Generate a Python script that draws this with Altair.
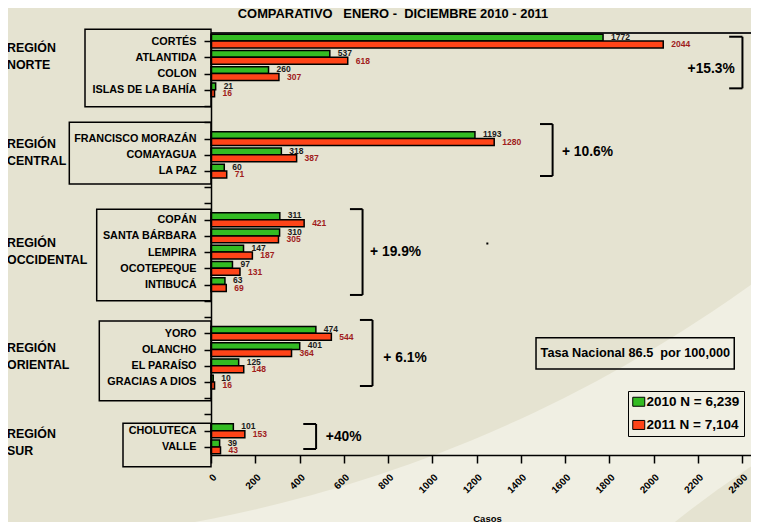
import json
import math
import altair as alt
import pandas as pd

# ---------------- data ----------------
regions = ["NORTE", "CENTRAL", "OCCIDENTAL", "ORIENTAL", "SUR"]
region_changes = ["+15.3%", "+ 10.6%", "+ 19.9%", "+ 6.1%", "+40%"]
departments = [
    ["CORTÉS", "ATLANTIDA", "COLON", "ISLAS DE LA BAHÍA"],
    ["FRANCISCO MORAZÁN", "COMAYAGUA", "LA PAZ"],
    ["COPÁN", "SANTA BÁRBARA", "LEMPIRA", "OCOTEPEQUE", "INTIBUCÁ"],
    ["YORO", "OLANCHO", "EL PARAÍSO", "GRACIAS A DIOS"],
    ["CHOLUTECA", "VALLE"],
]
cases_2010 = [[1772, 537, 260, 21], [1193, 318, 60], [311, 310, 147, 97, 63],
              [474, 401, 125, 10], [101, 39]]
cases_2011 = [[2044, 618, 307, 16], [1280, 387, 71], [421, 305, 187, 131, 69],
              [544, 364, 148, 16], [153, 43]]
series = ["2010 N = 6,239", "2011 N = 7,104"]
x_ticks = list(range(0, 2401, 200))
title_text = "COMPARATIVO\u00a0\u00a0 ENERO -\u00a0 DICIEMBRE 2010 - 2011"
national_rate = "Tasa Nacional 86.5\u00a0 por 100,000"

# ---------------- layout / style ----------------
FONT = "'Liberation Sans', Arial, sans-serif"
GREEN, RED = "#33bb22", "#ff4418"
TXT_GREEN, TXT_RED = "#1a1a1a", "#a01c1c"
BG_LIGHT, BG_DARK = "#f0efe3", "#e5e3d1"
PX_PER_CASE = 0.22125
PLOT_W, PLOT_H = 540, 422
X_MAX = PLOT_W / PX_PER_CASE
GAP = 2

# slot table built from the arrays
rows, slot_labels, slot = [], [], 0
for deps, a, b in zip(departments, cases_2010, cases_2011):
    for d, v0, v1 in zip(deps, a, b):
        slot_labels.append(d)
        rows.append(dict(dept=d, serie=series[0], value=v0, y0=slot - 0.42, y1=slot,
                         ylab=slot - 0.26, tcol=TXT_GREEN))
        rows.append(dict(dept=d, serie=series[1], value=v1, y0=slot, y1=slot + 0.43,
                         ylab=slot + 0.2, tcol=TXT_RED))
        slot += 1
    slot_labels += [""] * GAP
    slot += GAP
n_slots = slot - GAP
slot_labels = slot_labels[:n_slots]
df = pd.DataFrame(rows)

# annotation layout (plot px for margin items, slots / cases otherwise)
box_left_px = [-126, -141.7, -114.3, -111.7, -88]
box_top = [-0.73, 5.0, 10.36, 17.24, 23.55]
box_bot = [4.04, 8.81, 16.0, 22.16, 26.22]
label_y = [(0.44, 1.47), (6.36, 7.39), (12.46, 13.49), (18.93, 19.96), (24.21, 25.26)]
br_x = [2402, 1544, 685, 730, 475]
br_arm = [60, 57, 57, 57, 58]
br_top = [-0.27, 5.11, 10.35, 17.18, 23.59]
br_bot = [2.91, 8.31, 15.64, 21.25, 25.13]
pct_x = [2154, 1586, 719, 779, 519]
pct_y = [1.74, 6.85, 12.98, 19.54, 24.37]

xs = alt.Scale(domain=[0, X_MAX], nice=False, zero=True)
ys = alt.Scale(domain=[-0.5, n_slots - 0.5], reverse=True, nice=False, zero=False)

label_expr = json.dumps(slot_labels, ensure_ascii=False) + "[datum.value]"
yaxis = alt.Axis(values=list(range(n_slots)), labelExpr=label_expr, title=None,
                 ticks=True, tickSize=7, tickWidth=1.5, tickColor="black",
                 domain=True, domainColor="black", domainWidth=1.5, labelFont=FONT,
                 labelFontWeight="bold", labelFontSize=10.8, labelColor="black",
                 labelPadding=8, grid=False, labelOverlap=False, zindex=1)
xaxis = alt.Axis(values=x_ticks, title="Casos", labelAngle=-45, labelAlign="right",
                 labelBaseline="top", ticks=True, tickSize=8, tickWidth=1.5,
                 tickColor="black", domain=True, domainColor="black", domainWidth=1.5,
                 labelFont=FONT, labelFontWeight="bold", labelFontSize=10,
                 labelColor="black", labelPadding=9, titleFont=FONT,
                 titleFontWeight="bold", titleFontSize=9.5, titleColor="black",
                 titleX=276, titleAlign="center", titleY=58, titleBaseline="top",
                 grid=False, labelOverlap=False, format="d", zindex=1)

one = pd.DataFrame({"k": [0]})

# background swooshes
bg1 = alt.Chart(one).mark_arc(theta=0, theta2=2 * math.pi, radius=1381, fill=BG_DARK).encode(
    x=alt.value(-267), y=alt.value(-869))
bg2 = alt.Chart(one).mark_arc(theta=0, theta2=2 * math.pi, radius=998, fill=BG_DARK).encode(
    x=alt.value(1089), y=alt.value(1267))

# title
title = alt.Chart(one).mark_text(text=title_text, align="center", baseline="middle",
                                 font=FONT, fontSize=12.9, fontWeight="bold",
                                 color="black").encode(x=alt.value(182), y=alt.value(-19))

# top frame line
top_df = pd.DataFrame({"x": [0], "x2": [X_MAX], "y": [-0.5]})
top_rule = alt.Chart(top_df).mark_rule(color="#222", strokeWidth=2).encode(
    x=alt.X("x:Q", scale=xs, axis=xaxis), x2="x2:Q",
    y=alt.Y("y:Q", scale=ys, axis=yaxis))

bars = alt.Chart(df).mark_rect(stroke="black", strokeWidth=1.5).encode(
    x=alt.X("value:Q", scale=xs, axis=xaxis), x2=alt.datum(0),
    y=alt.Y("y0:Q", scale=ys, axis=yaxis), y2="y1:Q",
    color=alt.Color("serie:N", scale=alt.Scale(domain=series, range=[GREEN, RED]),
                    legend=alt.Legend(title=None, orient="none", legendX=417, legendY=358,
                                      symbolType="M-1,-0.75H1V0.75H-1Z", symbolSize=144,
                                      symbolStrokeColor="black", symbolStrokeWidth=1,
                                      symbolOpacity=1, labelFont=FONT,
                                      labelFontWeight="bold", labelFontSize=13.5,
                                      labelColor="black", padding=4, strokeColor="black",
                                      rowPadding=8.2, labelOffset=1, zindex=1)))

# region boxes
boxes_df = pd.DataFrame({"left": box_left_px, "top": box_top, "bot": box_bot})
boxes = alt.Chart(boxes_df).mark_rect(fill="transparent", stroke="black", strokeWidth=1.5).encode(
    x=alt.X("left:Q", scale=None), x2=alt.value(0),
    y=alt.Y("top:Q", scale=ys, axis=yaxis), y2="bot:Q")

value_labels = alt.Chart(df).mark_text(align="left", baseline="middle", dx=8, font=FONT,
                                       fontWeight="bold", fontSize=8.5).encode(
    x=alt.X("value:Q", scale=xs, axis=xaxis), y=alt.Y("ylab:Q", scale=ys, axis=yaxis),
    text=alt.Text("value:Q", format="d"), color=alt.Color("tcol:N", scale=None))

# region names
rl_rows = []
for r, (ya, yb) in zip(regions, label_y):
    rl_rows.append({"t": "REGIÓN", "y": ya})
    rl_rows.append({"t": r, "y": yb})
region_labels = alt.Chart(pd.DataFrame(rl_rows)).mark_text(
    align="left", baseline="middle", font=FONT, fontWeight="bold", fontSize=12.4,
    color="black").encode(x=alt.value(-204), y=alt.Y("y:Q", scale=ys, axis=yaxis),
                          text="t:N")

# brackets
br_rows = []
for xv, arm, t, b in zip(br_x, br_arm, br_top, br_bot):
    br_rows.append({"x": xv, "x2": xv, "y": t, "y2": b})
    br_rows.append({"x": xv - arm, "x2": xv, "y": t, "y2": t})
    br_rows.append({"x": xv - arm, "x2": xv, "y": b, "y2": b})
brackets = alt.Chart(pd.DataFrame(br_rows)).mark_rule(color="black", strokeWidth=2).encode(
    x=alt.X("x:Q", scale=xs, axis=xaxis), x2="x2:Q",
    y=alt.Y("y:Q", scale=ys, axis=yaxis), y2="y2:Q")

pct = alt.Chart(pd.DataFrame({"t": region_changes, "x": pct_x, "y": pct_y})).mark_text(
    align="left", baseline="middle", font=FONT, fontWeight="bold", fontSize=13.8,
    color="black").encode(x=alt.X("x:Q", scale=xs, axis=xaxis),
                          y=alt.Y("y:Q", scale=ys, axis=yaxis), text="t:N")

tasa_df = pd.DataFrame({"x": [1469], "x2": [2365], "y": [18.27], "y2": [20.2],
                        "xc": [1918], "yc": [19.22], "t": [national_rate]})
tasa_box = alt.Chart(tasa_df).mark_rect(fill="transparent", stroke="black", strokeWidth=1.5).encode(
    x=alt.X("x:Q", scale=xs, axis=xaxis), x2="x2:Q",
    y=alt.Y("y:Q", scale=ys, axis=yaxis), y2="y2:Q")
tasa_text = alt.Chart(tasa_df).mark_text(align="center", baseline="middle", font=FONT,
                                         fontWeight="bold", fontSize=12.7, color="black").encode(
    x=alt.X("xc:Q", scale=xs, axis=xaxis), y=alt.Y("yc:Q", scale=ys, axis=yaxis), text="t:N")

dot = alt.Chart(pd.DataFrame({"x": [1249], "y": [12.47]})).mark_square(
    size=4, color="black", opacity=1).encode(x=alt.X("x:Q", scale=xs, axis=xaxis),
                                             y=alt.Y("y:Q", scale=ys, axis=yaxis))

chart = alt.layer(bg1, bg2, title, top_rule, bars, boxes, value_labels, region_labels,
                  brackets, pct, tasa_box, tasa_text, dot).properties(
    width=PLOT_W, height=PLOT_H,
    autosize=alt.AutoSizeParams(type="none"),
    padding={"left": 203, "top": 25, "right": 0, "bottom": 67},
    background=BG_LIGHT,
).configure_view(strokeWidth=0)

chart.save("out.html", embed_options={"renderer": "svg", "actions": False})
